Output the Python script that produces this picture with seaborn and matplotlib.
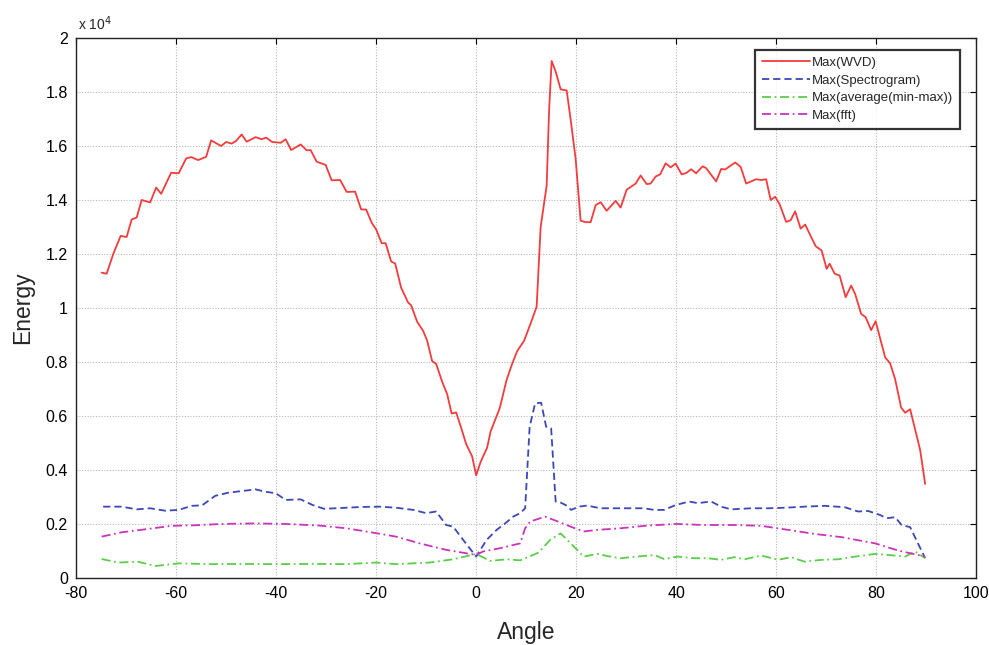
import numpy as np
import pandas as pd
import matplotlib
matplotlib.use("Agg")
import matplotlib.pyplot as plt
import seaborn as sns
from matplotlib.ticker import FuncFormatter

# ---- data (energy in units of 1e4) ----
wvd_angle = [-74.9, -73.9, -72.6, -71.1, -69.9, -68.9, -67.9, -66.9, -65.2, -64.0, -63.0, -61.0,
             -59.5, -58.0, -57.0, -55.6, -54.0, -53.0, -51.0, -50.0, -48.9, -48.0, -46.9, -45.9,
             -44.1, -42.9, -42.0, -40.8, -39.1, -38.1, -37.0, -35.1, -33.9, -33.1, -31.9, -30.1,
             -28.9, -27.2, -25.9, -24.2, -23.0, -22.0, -20.9, -20.0, -18.9, -18.1, -17.0, -16.2,
             -15.0, -13.6, -13.0, -11.8, -10.6, -9.8, -8.8, -8.0, -6.8, -5.8, -4.9, -4.0, -3.1,
             -2.0, -0.8, 0.0, 0.9, 2.2, 2.9, 4.7, 6.1, 7.2, 8.2, 9.6, 11.2, 12.1, 12.9, 14.1,
             14.6, 15.1, 15.9, 16.9, 18.1, 18.9, 19.9, 20.9, 21.9, 22.9, 23.9, 24.9, 26.1, 27.9,
             28.9, 30.1, 31.9, 32.9, 34.1, 34.9, 35.9, 36.8, 37.9, 38.9, 39.9, 41.1, 42.0, 43.0,
             44.0, 45.3, 46.0, 48.0, 49.0, 49.8, 51.8, 52.9, 54.0, 56.0, 57.0, 58.0, 58.9, 59.8,
             60.7, 62.0, 62.9, 63.8, 64.9, 65.8, 67.9, 69.1, 70.1, 70.7, 71.7, 72.7, 73.9, 75.0,
             75.8, 77.0, 77.9, 79.0, 79.9, 81.8, 82.8, 83.8, 85.0, 85.8, 86.8, 88.8, 89.8]
wvd_energy = [1.131, 1.127, 1.199, 1.267, 1.263, 1.328, 1.335, 1.400, 1.391, 1.446, 1.423, 1.501,
              1.499, 1.554, 1.559, 1.548, 1.560, 1.621, 1.600, 1.615, 1.609, 1.619, 1.643, 1.616,
              1.633, 1.625, 1.631, 1.615, 1.612, 1.625, 1.585, 1.606, 1.584, 1.585, 1.542, 1.530,
              1.473, 1.474, 1.430, 1.431, 1.365, 1.365, 1.316, 1.291, 1.240, 1.240, 1.172, 1.165,
              1.075, 1.020, 1.010, 0.949, 0.915, 0.879, 0.803, 0.793, 0.727, 0.681, 0.609, 0.613,
              0.562, 0.496, 0.450, 0.380, 0.430, 0.483, 0.543, 0.628, 0.734, 0.793, 0.840, 0.879,
              0.958, 1.005, 1.300, 1.453, 1.737, 1.915, 1.876, 1.810, 1.806, 1.698, 1.552, 1.323,
              1.318, 1.318, 1.381, 1.392, 1.360, 1.397, 1.372, 1.438, 1.461, 1.491, 1.459, 1.461,
              1.487, 1.495, 1.536, 1.521, 1.535, 1.495, 1.500, 1.514, 1.499, 1.525, 1.518, 1.469,
              1.515, 1.513, 1.539, 1.523, 1.461, 1.477, 1.474, 1.477, 1.400, 1.412, 1.384, 1.319,
              1.325, 1.358, 1.294, 1.309, 1.229, 1.213, 1.145, 1.164, 1.127, 1.120, 1.040, 1.083,
              1.052, 0.978, 0.966, 0.918, 0.951, 0.817, 0.795, 0.736, 0.631, 0.612, 0.625, 0.474,
              0.348]

spec_angle = [-74.6, -70.9, -67.9, -65.2, -62.2, -59.5, -56.9, -54.8, -52.2, -49.5, -46.8, -44.1,
              -42.1, -40.1, -38.1, -35.1, -32.7, -30.4, -26.0, -22.7, -19.3, -16.0, -12.6, -10.0,
              -8.0, -6.0, -4.6, -2.6, 0.0, 2.1, 4.1, 5.8, 7.4, 8.8, 9.8, 10.7, 11.8, 13.0, 14.0,
              15.0, 15.9, 16.9, 17.9, 19.0, 20.5, 22.2, 24.9, 28.9, 33.6, 35.6, 37.6, 39.9, 42.6,
              44.3, 47.0, 49.0, 51.0, 55.0, 58.4, 61.7, 65.7, 69.7, 73.7, 76.4, 78.4, 80.8, 82.1,
              83.8, 85.1, 86.8, 89.8]
spec_energy = [0.264, 0.264, 0.254, 0.258, 0.249, 0.252, 0.267, 0.269, 0.304, 0.316, 0.322, 0.328,
               0.319, 0.314, 0.289, 0.291, 0.270, 0.256, 0.260, 0.263, 0.264, 0.260, 0.252, 0.240,
               0.246, 0.196, 0.190, 0.141, 0.079, 0.141, 0.178, 0.202, 0.227, 0.240, 0.258, 0.560,
               0.647, 0.649, 0.560, 0.554, 0.283, 0.279, 0.270, 0.252, 0.264, 0.268, 0.258, 0.258,
               0.258, 0.252, 0.252, 0.270, 0.283, 0.277, 0.283, 0.264, 0.254, 0.258, 0.258, 0.260,
               0.264, 0.267, 0.262, 0.246, 0.248, 0.233, 0.221, 0.225, 0.196, 0.188, 0.073]

avg_angle = [-74.9, -71.6, -67.6, -64.2, -59.5, -52.8, -46.1, -39.4, -32.7, -26.0, -20.0, -16.0,
             -9.3, -4.6, -0.9, 0.0, 2.8, 6.1, 8.8, 12.5, 14.8, 16.9, 18.9, 21.5, 24.2, 26.2, 28.9,
             32.2, 35.6, 37.6, 40.3, 43.6, 46.3, 49.0, 51.7, 53.7, 57.0, 60.4, 63.0, 65.7, 69.1,
             72.4, 75.8, 79.8, 82.5, 85.8, 87.8, 89.8]
avg_energy = [0.070, 0.057, 0.060, 0.044, 0.054, 0.051, 0.052, 0.051, 0.052, 0.051, 0.057, 0.051,
              0.057, 0.069, 0.085, 0.089, 0.063, 0.069, 0.065, 0.094, 0.141, 0.165, 0.128, 0.079,
              0.089, 0.081, 0.073, 0.079, 0.085, 0.070, 0.079, 0.073, 0.073, 0.067, 0.077, 0.069,
              0.083, 0.067, 0.077, 0.060, 0.067, 0.069, 0.079, 0.089, 0.085, 0.079, 0.098, 0.073]

fft_angle = [-74.9, -70.9, -66.2, -60.9, -56.2, -50.8, -44.1, -38.1, -31.4, -26.0, -20.7, -16.0,
             -11.3, -6.0, 0.0, 1.4, 4.8, 8.8, 9.8, 10.8, 13.8, 16.9, 18.9, 21.5, 24.2, 28.9, 34.3,
             40.0, 45.6, 51.7, 57.0, 62.4, 67.7, 73.1, 79.8, 84.5, 89.8]
fft_energy = [0.153, 0.169, 0.180, 0.193, 0.195, 0.200, 0.202, 0.200, 0.194, 0.184, 0.168, 0.153,
              0.128, 0.104, 0.085, 0.098, 0.110, 0.128, 0.184, 0.209, 0.227, 0.205, 0.190, 0.172,
              0.178, 0.184, 0.194, 0.200, 0.196, 0.196, 0.193, 0.178, 0.163, 0.151, 0.128, 0.101,
              0.079]

series_names = ["Max(WVD)", "Max(Spectrogram)", "Max(average(min-max))", "Max(fft)"]
x_ticks = [-80, -60, -40, -20, 0, 20, 40, 60, 80, 100]
y_ticks = [0, 0.2, 0.4, 0.6, 0.8, 1, 1.2, 1.4, 1.6, 1.8, 2]

# ---- plot ----
sns.set_style("white")
plt.rcParams["font.family"] = ["Liberation Sans", "DejaVu Sans"]
plt.rcParams["axes.unicode_minus"] = False

fig = plt.figure(figsize=(9.89, 6.45), dpi=100)
ax = fig.add_axes([0.077, 0.104, 0.910, 0.837])

styles = [
    (wvd_angle, wvd_energy, "#f43c3c", "-"),
    (spec_angle, spec_energy, "#3a48b8", (0, (4, 2.2))),
    (avg_angle, avg_energy, "#5acd4a", (0, (5, 2, 1, 2))),
    (fft_angle, fft_energy, "#cc33bb", (0, (5, 2, 1, 2))),
]
for (xa, ya, c, ls), name in zip(styles, series_names):
    df = pd.DataFrame({"Angle": xa, "Energy": ya})
    sns.lineplot(data=df, x="Angle", y="Energy", ax=ax, color=c, linestyle=ls,
                 linewidth=1.3, label=name, sort=False, estimator=None)

ax.set_xlim(-80, 100)
ax.set_ylim(0, 2)
ax.set_xticks(x_ticks)
ax.set_yticks(y_ticks)
ax.yaxis.set_major_formatter(FuncFormatter(lambda v, p: f"{v:g}"))
ax.grid(True, color="#b8b8b8", linestyle=(0, (1, 1.5)), linewidth=0.8)
for s in ax.spines.values():
    s.set_visible(True)
    s.set_color("#222222")
    s.set_linewidth(1.0)
ax.tick_params(direction="in", length=4, width=0.8, top=True, right=True,
               labelsize=11.5, colors="black", pad=6)

ax.set_xlabel("Angle", fontsize=16.5, labelpad=14)
ax.set_ylabel("Energy", fontsize=16.5, labelpad=8)
ax.text(0.002, 1.01, r"x 10$^4$", transform=ax.transAxes, fontsize=10,
        ha="left", va="bottom")

leg = ax.legend(loc="upper right", bbox_to_anchor=(0.982, 0.978), fontsize=9.5,
                frameon=True, fancybox=False, edgecolor="black", handlelength=3.6,
                handletextpad=0.2, borderpad=0.5, labelspacing=0.42, borderaxespad=0)
leg.get_frame().set_linewidth(1.6)

fig.savefig("out.png", dpi=100, facecolor="white")
